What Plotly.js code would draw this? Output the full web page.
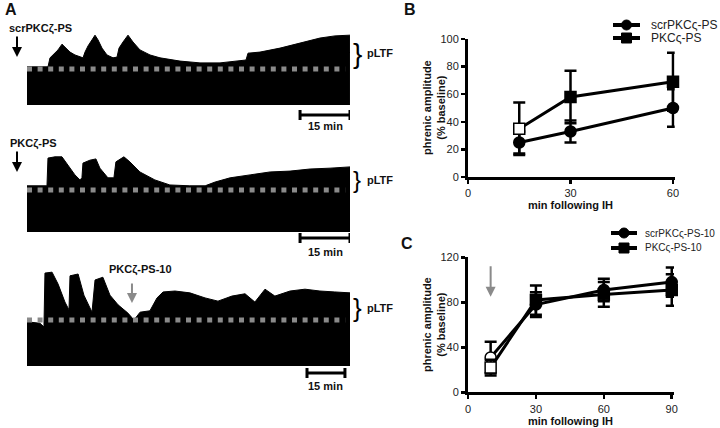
<!DOCTYPE html>
<html><head><meta charset="utf-8">
<script src="https://cdn.plot.ly/plotly-3.0.1.min.js"></script>
<style>html,body{margin:0;padding:0;background:#fff}#chart{width:720px;height:428px}</style>
</head><body><div id="chart"></div>
<script>
// ---------- Panel A: recording envelopes (time in min, amplitude in % baseline) ----------
const trace1T = [0,6.31,6.91,7.81,9.31,10.51,11.71,12.91,14.41,15.92,16.82,17.42,18.32,19.52,20.42,21.32,22.52,24.02,25.83,27.03,27.63,28.83,30.33,31.83,33.93,36.94,39.94,45.95,51.95,57.96,62.46,65.77,66.37,69.97,75.98,81.98,87.99,92.49,96.99];
const trace1Amp = [106,106,131,139,153,169,158,147,139,133,131,147,164,181,194,181,158,139,131,133,158,175,194,175,153,139,131,122,117,117,122,125,144,147,158,172,186,192,194];
const trace2T = [0,6.0,6.3,8.4,10.5,12.3,14.4,15.9,16.5,16.8,18.9,20.7,21.9,24.3,26.1,26.7,29.1,30.9,33.9,38.4,42.9,48.9,53.5,56.5,61.0,67.0,73.0,79.0,85.0,91.0,97.0];
const trace2Amp = [110,110,176,179,179,160,136,124,129,164,171,174,152,129,129,167,179,167,143,124,112,110,110,119,129,136,143,145,150,152,155];
const trace3T = [0,5.1,6.7,7.1,9.9,12.3,15.0,16.6,17.0,20.2,22.5,25.7,26.9,30.0,32.8,36.0,39.9,42.3,44.7,48.6,51.4,53.8,58.5,64.4,70.4,75.5,81.0,86.2,90.1,94.1,98.0,104.0,109.9,115.8,121.7,127.7];
const trace3Amp = [96,93,85,202,204,178,139,122,196,200,154,117,187,193,154,133,115,100,117,120,148,161,163,159,148,141,152,157,139,167,152,163,167,163,161,159];
const baselineAmp = 100;
const scaleBarMin = 15;
const scaleBarStart = [82, 82, 110.7];
const traceLabels = ['scrPKCζ-PS', 'PKCζ-PS', 'PKCζ-PS-10'];
const arrowT3 = 41.5, arrowAmp3 = 137;

// ---------- Panel B ----------
const bX = [15, 30, 60];
const bScr = [25, 33, 50];
const bScrErr = [8, 8, 13.5];
const bPkc = [35, 58, 69];
const bPkcErr = [19, 19, 21];
const bNames = ['scrPKCς-PS', 'PKCς-PS'];
const bTicksY = [0, 20, 40, 60, 80, 100];
const bTicksX = [0, 30, 60];

// ---------- Panel C ----------
const cX = [10, 30, 60, 90];
const cScr = [31, 78, 91, 98];
const cScrErr = [14, 11, 10, 13];
const cPkc = [22, 82, 87, 91];
const cPkcErr = [7, 13, 11, 14];
const cNames = ['scrPKCς-PS-10', 'PKCς-PS-10'];
const cTicksY = [0, 40, 80, 120];
const cTicksX = [0, 30, 60, 90];
const cArrowX = 10, cArrowY = 85;

const W = 720, H = 428;
const px = x => x / W;
const py = y => 1 - y / H;
const FONT = 'Liberation Sans, Arial, sans-serif';
const GRAY = '#8a8a8a';

function rec(t, a, xa, ya) {
  return {x: t, y: a, xaxis: xa, yaxis: ya, type: 'scatter', mode: 'lines',
    fill: 'tozeroy', fillcolor: '#000', line: {color: '#000', width: 1}, hoverinfo: 'skip', showlegend: false};
}
function base(t, xa, ya) {
  const tm = t[t.length - 1];
  return {x: [0, tm * 0.985], y: [baselineAmp, baselineAmp], xaxis: xa, yaxis: ya, type: 'scatter', mode: 'lines',
    line: {color: GRAY, width: 5, dash: '5px,5.6px'}, hoverinfo: 'skip', showlegend: false};
}
function series(x, y, err, sym, open, xa, ya, name) {
  return {x: x, y: y, xaxis: xa, yaxis: ya, name: name, type: 'scatter', mode: 'lines+markers',
    cliponaxis: false, showlegend: false,
    line: {color: '#000', width: 3},
    marker: {symbol: sym, size: 11, color: x.map((v, i) => open[i] ? '#fff' : '#000'), line: {color: '#000', width: 1.5}},
    error_y: {type: 'data', array: err, visible: true, color: '#000', thickness: 2.5, width: 6}};
}

const data = [
  rec(trace1T, trace1Amp, 'x', 'y'), base(trace1T, 'x', 'y'),
  rec(trace2T, trace2Amp, 'x', 'y2'), base(trace2T, 'x', 'y2'),
  rec(trace3T, trace3Amp, 'x2', 'y3'), base(trace3T, 'x2', 'y3'),
  series(bX, bScr, bScrErr, 'circle', [0,0,0], 'x3', 'y4', bNames[0]),
  series(bX, bPkc, bPkcErr, 'square', [1,0,0], 'x3', 'y4', bNames[1]),
  series(cX, cScr, cScrErr, 'circle', [1,0,0,0], 'x4', 'y5', cNames[0]),
  series(cX, cPkc, cPkcErr, 'square', [1,0,0,0], 'x4', 'y5', cNames[1])
];

const hid = {visible: false, fixedrange: true};
function numAxis(domain, range, ticks, anchor) {
  return {domain: domain, range: range, anchor: anchor, tickvals: ticks, ticktext: ticks.map(String),
    showline: true, linewidth: 3, linecolor: '#000', ticks: 'outside', ticklen: 4, tickwidth: 2.5, tickcolor: '#000',
    showgrid: false, zeroline: false, tickfont: {family: FONT, size: 11, color: '#222'}};
}

const layout = {
  width: W, height: H, margin: {l: 0, r: 0, t: 0, b: 0},
  paper_bgcolor: '#fff', plot_bgcolor: 'rgba(0,0,0,0)', showlegend: false,
  font: {family: FONT, color: '#000'},
  xaxis: Object.assign({domain: [px(27), px(350)], range: [0, 97], anchor: 'y'}, hid),
  yaxis: Object.assign({domain: [py(105), py(105 - 220 * 0.36)], range: [0, 220], anchor: 'x'}, hid),
  yaxis2: Object.assign({domain: [py(232), py(232 - 220 * 0.42)], range: [0, 220], anchor: 'x'}, hid),
  xaxis2: Object.assign({domain: [px(27), px(350)], range: [0, 127.7], anchor: 'y3'}, hid),
  yaxis3: Object.assign({domain: [py(366), py(366 - 230 * 0.46)], range: [0, 230], anchor: 'x2'}, hid),
  xaxis3: numAxis([px(468), px(674.7)], [0, 60.5], bTicksX, 'y4'),
  yaxis4: numAxis([py(177), py(39)], [0, 100], bTicksY, 'x3'),
  xaxis4: numAxis([px(468), px(674)], [0, 91], cTicksX, 'y5'),
  yaxis5: numAxis([py(392.3), py(257.3)], [0, 120], cTicksY, 'x4'),
  shapes: [], annotations: []
};

const A = layout.annotations, S = layout.shapes;
function txt(t, x, y, size, bold, opts) {
  A.push(Object.assign({text: bold ? '<b>' + t + '</b>' : t, xref: 'paper', yref: 'paper', x: px(x), y: py(y),
    showarrow: false, xanchor: 'center', yanchor: 'middle', font: {family: FONT, size: size, color: '#111'}}, opts || {}));
}
// panel letters
txt('A', 11, 10, 16, true);
txt('B', 410, 10, 16, true);
txt('C', 407, 244, 16, true);
// trace labels
txt(traceLabels[0], 7, 28, 11, true, {xanchor: 'left'});
txt(traceLabels[1], 8, 143, 11, true, {xanchor: 'left'});
txt(traceLabels[2], 140, 269, 11, true);
// arrows
function arrow(x, y, xref, yref, len, color) {
  A.push({text: '', x: x, y: y, xref: xref, yref: yref, showarrow: true, ax: 0, ay: -len,
    arrowhead: 2, arrowsize: 1, arrowwidth: 2, arrowcolor: color});
}
arrow(px(17), py(57), 'paper', 'paper', 22, '#000');
arrow(px(17), py(172), 'paper', 'paper', 22, '#000');
arrow(arrowT3, arrowAmp3, 'x2', 'y3', 21, GRAY);
arrow(cArrowX, cArrowY, 'x4', 'y5', 32, GRAY);
// braces + pLTF
[[53, 28], [180, 24], [308, 26]].forEach(([y, s]) => {
  txt('}', 357, y, s, false, {font: {family: FONT, size: s, color: '#000'}});
  txt('pLTF', 365, y, 11, true, {xanchor: 'left'});
});
// scale bars
const barY = [115, 238, 373], labY = [126, 252, 386], barX = ['x', 'x', 'x2'];
barY.forEach((yb, i) => {
  const x0 = scaleBarStart[i], x1 = x0 + scaleBarMin;
  S.push({type: 'line', xref: barX[i], yref: 'paper', x0: x0, x1: x1, y0: py(yb), y1: py(yb), line: {color: '#000', width: 3}});
  S.push({type: 'line', xref: barX[i], yref: 'paper', x0: x0, x1: x0, y0: py(yb - 5), y1: py(yb + 5), line: {color: '#000', width: 3}});
  S.push({type: 'line', xref: barX[i], yref: 'paper', x0: x1, x1: x1, y0: py(yb - 5), y1: py(yb + 5), line: {color: '#000', width: 3}});
  A.push({text: '<b>15 min</b>', xref: barX[i], yref: 'paper', x: x0 + scaleBarMin / 2, y: py(labY[i]), showarrow: false,
    xanchor: 'center', yanchor: 'middle', font: {family: FONT, size: 11, color: '#111'}});
});
// axis titles
txt('phrenic amplitude<br>(% baseline)', 434, 108, 11, true, {textangle: -90});
txt('phrenic amplitude<br>(% baseline)', 434, 325, 11, true, {textangle: -90});
txt('min following IH', 570, 205, 11, true);
txt('min following IH', 570, 421, 11, true);
// manual legends
function legItem(x0, x1, y, sym, name, fs, gap) {
  S.push({type: 'line', xref: 'paper', yref: 'paper', x0: px(x0), x1: px(x1), y0: py(y), y1: py(y), line: {color: '#000', width: 4}});
  const c = (x0 + x1) / 2, r = 5;
  S.push({type: sym === 'circle' ? 'circle' : 'rect', xref: 'paper', yref: 'paper', x0: px(c - r), x1: px(c + r), y0: py(y + r), y1: py(y - r),
    fillcolor: '#000', line: {color: '#000', width: 1}});
  txt(name, x1 + gap, y, fs, false, {xanchor: 'left', font: {family: FONT, size: fs, color: '#222'}});
}
legItem(613, 640, 25, 'circle', bNames[0], 12, 9);
legItem(613, 640, 38, 'square', bNames[1], 12, 9);
legItem(611, 637, 233, 'circle', cNames[0], 10, 6);
legItem(611, 637, 248, 'square', cNames[1], 10, 6);

Plotly.newPlot('chart', data, layout, {staticPlot: true, displayModeBar: false});
</script></body></html>
